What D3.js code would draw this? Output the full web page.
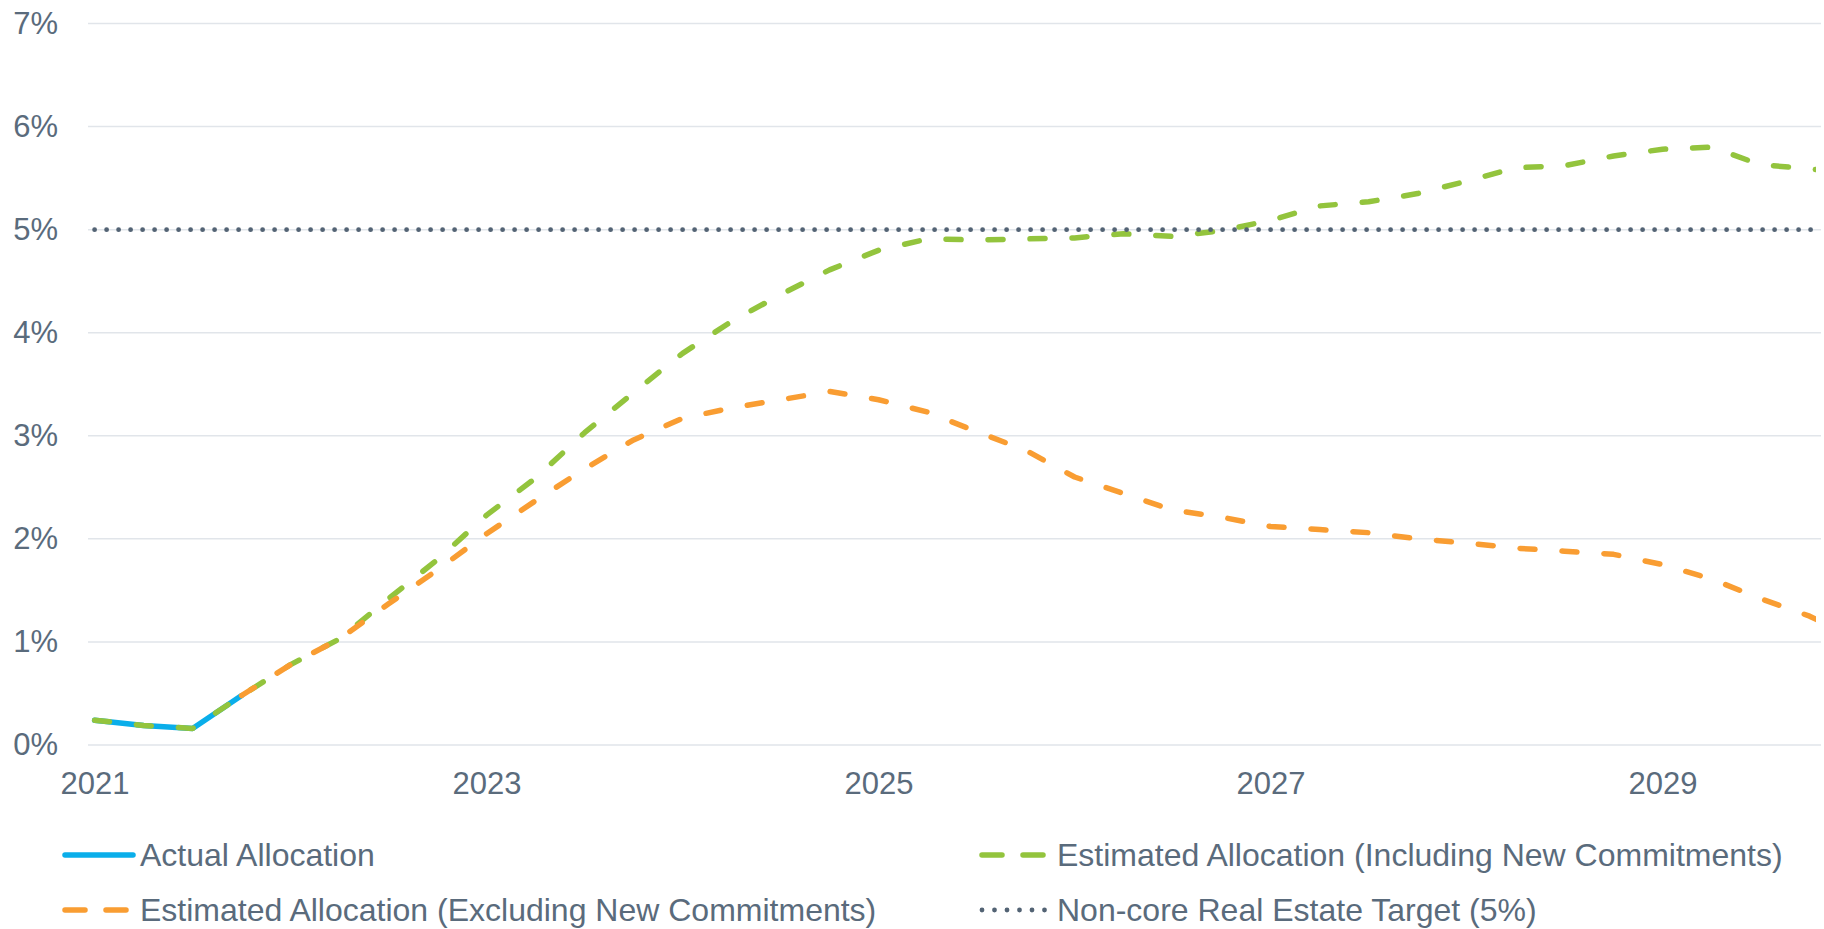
<!DOCTYPE html>
<html>
  <head>
    <meta charset="utf-8">
    <title>Non-core Real Estate Allocation</title>
    <script src="https://cdnjs.cloudflare.com/ajax/libs/d3/7.8.5/d3.min.js" charset="utf-8"></script>
    <style>
      body { margin: 0; background: #fff; }
      svg { display: block; font-family: "Liberation Sans", Arial, sans-serif; }
    </style>
  </head>

  <body>
    <div id="chart"></div>
    <script>

// quarterly points, 2021 Q1 .. 2030 Q1 (the last one sits past the right edge)
var quarters = ["2021Q1","2021Q2","2021Q3","2021Q4",
                "2022Q1","2022Q2","2022Q3","2022Q4",
                "2023Q1","2023Q2","2023Q3","2023Q4",
                "2024Q1","2024Q2","2024Q3","2024Q4",
                "2025Q1","2025Q2","2025Q3","2025Q4",
                "2026Q1","2026Q2","2026Q3","2026Q4",
                "2027Q1","2027Q2","2027Q3","2027Q4",
                "2028Q1","2028Q2","2028Q3","2028Q4",
                "2029Q1","2029Q2","2029Q3","2029Q4",
                "2030Q1"];

var actual = [0.24, 0.19, 0.16, 0.48];

var inclNew = [0.24, 0.19, 0.16, 0.48,
               0.78, 1.03, 1.42, 1.80,
               2.23, 2.59, 3.03, 3.42,
               3.80, 4.11, 4.37, 4.61,
               4.80, 4.91, 4.90, 4.91,
               4.92, 4.96, 4.935, 4.99,
               5.09, 5.23, 5.27, 5.35,
               5.47, 5.60, 5.62, 5.715,
               5.78, 5.80, 5.63, 5.59,
               5.54];

var exclNew = [null, null, null, 0.48,
               0.78, 1.03, 1.37, 1.70,
               2.05, 2.37, 2.68, 2.96,
               3.17, 3.27, 3.35, 3.43,
               3.35, 3.23, 3.04, 2.86,
               2.60, 2.44, 2.28, 2.21,
               2.12, 2.09, 2.06, 2.00,
               1.96, 1.91, 1.88, 1.85,
               1.75, 1.61, 1.42, 1.25,
               1.02];

var target = 5;

var yTicks = [0, 1, 2, 3, 4, 5, 6, 7];
var xTicks = [2021, 2023, 2025, 2027, 2029];

var legendItems = ["Actual Allocation",
                   "Estimated Allocation (Including New Commitments)",
                   "Estimated Allocation (Excluding New Commitments)",
                   "Non-core Real Estate Target (5%)"];

window.addEventListener("load", run);

function qYear(q) {
    return +q.slice(0, 4) + (+q.slice(5) - 1) / 4;
}

function run() {
    var W = 1824, H = 929;
    var left = 88, right = 1821;
    var textCol = "#5a6b7c";

    var svg = d3.select("#chart").append("svg")
        .attr("width", W)
        .attr("height", H);

    svg.append("clipPath").attr("id", "plotclip")
        .append("rect")
        .attr("x", 0).attr("y", 0)
        .attr("width", 1816).attr("height", H);

    var x = d3.scaleLinear().domain([2021, 2029]).range([94.6, 1662.6]);
    var y = d3.scaleLinear().domain([0, 7]).range([745, 23.5]);

    // gridlines
    svg.append("g").selectAll("line")
        .data(yTicks)
        .enter().append("line")
        .attr("x1", left).attr("x2", right)
        .attr("y1", function(d) { return y(d); })
        .attr("y2", function(d) { return y(d); })
        .style("stroke", "#e1e5ea")
        .style("stroke-width", 1.5);

    // axes
    var yAxis = svg.append("g")
        .attr("transform", "translate(" + left + ",0)")
        .call(d3.axisLeft(y).tickValues(yTicks)
              .tickFormat(function(d) { return d + "%"; })
              .tickSize(0).tickPadding(30));
    var xAxis = svg.append("g")
        .attr("transform", "translate(0," + y(0) + ")")
        .call(d3.axisBottom(x).tickValues(xTicks)
              .tickFormat(d3.format("d"))
              .tickSize(0).tickPadding(27));
    [yAxis, xAxis].forEach(function(a) {
        a.select(".domain").remove();
        a.selectAll("text")
            .style("font-family", "'Liberation Sans', Arial, sans-serif")
            .style("font-size", "31px")
            .style("fill", textCol);
    });

    // series
    var pts = function(vals) {
        return vals.map(function(v, i) { return { t: qYear(quarters[i]), v: v }; });
    };
    var line = d3.line()
        .defined(function(d) { return d.v != null; })
        .x(function(d) { return x(d.t); })
        .y(function(d) { return y(d.v); });

    var targetVals = quarters.map(function() { return target; });

    var series = [
        { vals: actual,     color: "#0aaeea", dash: null,    width: 5.5 },
        { vals: inclNew,    color: "#93c43d", dash: "15 27", width: 5.5 },
        { vals: exclNew,    color: "#f99d32", dash: "15 27", width: 5.5 },
        { vals: targetVals, color: "#536374", dash: "0 12",  width: 4.8 }
    ];

    svg.append("g")
        .attr("clip-path", "url(#plotclip)")
        .selectAll("path")
        .data(series)
        .enter().append("path")
        .attr("d", function(s) { return line(pts(s.vals)); })
        .style("fill", "none")
        .style("stroke", function(s) { return s.color; })
        .style("stroke-width", function(s) { return s.width; })
        .style("stroke-linecap", "round")
        .style("stroke-linejoin", "round")
        .style("stroke-dasharray", function(s) { return s.dash; });

    // legend, two columns
    var legPos = [[62, 855], [979, 855], [62, 910], [979, 910]];
    var leg = svg.append("g").selectAll("g")
        .data(legendItems)
        .enter().append("g")
        .attr("transform", function(d, i) {
            return "translate(" + legPos[i][0] + "," + legPos[i][1] + ")";
        });
    leg.append("line")
        .attr("x1", 3).attr("x2", 71)
        .attr("y1", 0).attr("y2", 0)
        .style("stroke", function(d, i) { return series[i].color; })
        .style("stroke-width", function(d, i) { return series[i].width; })
        .style("stroke-linecap", "round")
        .style("stroke-dasharray", function(d, i) {
            return i == 0 ? null : (i == 3 ? "0 12.5" : "20 21");
        });
    leg.append("text")
        .attr("x", 78)
        .attr("dy", "0.35em")
        .style("font-size", "32px")
        .style("fill", textCol)
        .text(function(d) { return d; });
}

    </script>
  </body>
</html>
